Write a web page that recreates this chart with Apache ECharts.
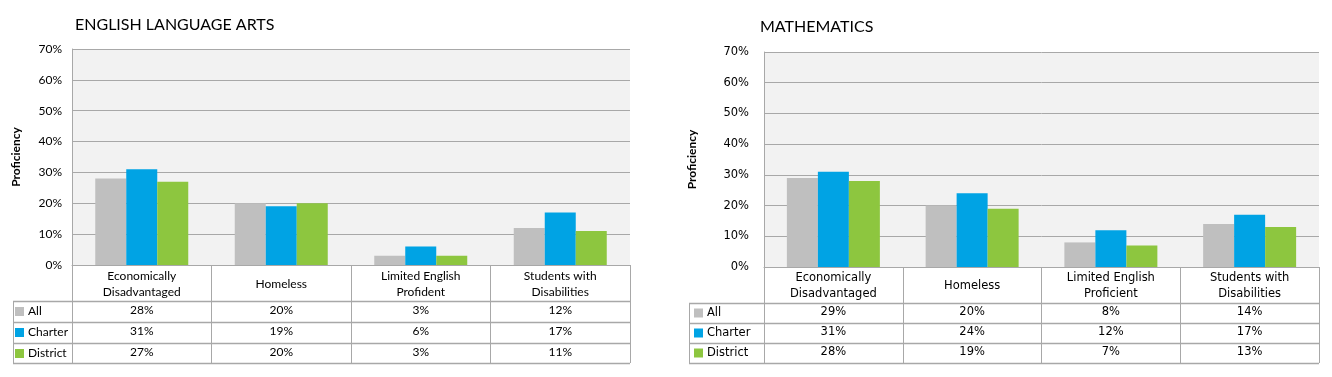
<!DOCTYPE html>
<html>
<head>
<meta charset="utf-8">
<script src="https://cdn.jsdelivr.net/npm/echarts@6/dist/echarts.min.js"></script>
<style>
html,body{margin:0;padding:0;background:#fff;}
#c{width:1332px;height:377px;}
</style>
</head>
<body>
<div id="c"></div>
<script>
// ---- data ----
const elaCategories = ["Economically\nDisadvantaged", "Homeless", "Limited English\nProfident", "Students with\nDisabilities"];
const mathCategories = ["Economically\nDisadvantaged", "Homeless", "Limited English\nProficient", "Students with\nDisabilities"];
const seriesNames = ["All", "Charter", "District"];
const elaAll = [28, 20, 3, 12];
const elaCharter = [31, 19, 6, 17];
const elaDistrict = [27, 20, 3, 11];
const mathAll = [29, 20, 8, 14];
const mathCharter = [31, 24, 12, 17];
const mathDistrict = [28, 19, 7, 13];
const yTicks = [0, 10, 20, 30, 40, 50, 60, 70];

const colors = ["#BFBFBF", "#00A3E4", "#8DC63F"];
const elaData = [elaAll, elaCharter, elaDistrict];
const mathData = [mathAll, mathCharter, mathDistrict];

// ---- layout ----
const L = {left: 72, right: 630, top: 49, bottom: 265, tableLeft: 13, rows: [301, 322, 343, 363], font: "Lato", fs: 12, rowH: 21};
const R = {left: 764, right: 1319, top: 52, bottom: 267, tableLeft: 689, rows: [303, 323, 343, 363], font: "'DejaVu Sans', Verdana, sans-serif", fs: 11.5, rowH: 20};
const W = 1332, H = 377;
const lineCol = "#A8A8A8";

function labelFormatter(cats, data) {
  return function (v, i) {
    const name = cats[i];
    const parts = name.split("\n");
    let head;
    if (parts.length === 2) head = "{h|" + parts[0] + "}\n{h|" + parts[1] + "}";
    else head = "{h1|" + parts[0] + "}";
    const vals = data.map(d => "{v|" + d[i] + "%}").join("\n");
    return head + "\n" + vals;
  };
}

function gridOf(g) {
  return {left: g.left, right: W - g.right, top: g.top, bottom: H - g.bottom, show: true,
    backgroundColor: "#F2F2F2", borderWidth: 0, containLabel: false};
}

function xAxisOf(g, idx, cats, data) {
  return {
    type: "category", gridIndex: idx, data: cats,
    axisLine: {show: true, lineStyle: {color: lineCol, width: 1}},
    axisTick: {show: true, interval: 0, length: g.rows[3] - g.bottom, lineStyle: {color: lineCol, width: 1}},
    axisLabel: {
      interval: 0, margin: 3, color: "#000", fontFamily: g.font, fontSize: g.fs,
      formatter: labelFormatter(cats, data),
      rich: {
        h: {lineHeight: 16, fontFamily: g.font, fontSize: g.fs, color: "#000"},
        h1: {lineHeight: 32, fontFamily: g.font, fontSize: g.fs, color: "#000"},
        v: {lineHeight: g.rowH, fontFamily: g.font, fontSize: g.fs, color: "#000"}
      }
    }
  };
}

function yAxisOf(g, idx, margin, nameGap) {
  return {
    type: "value", gridIndex: idx, min: yTicks[0], max: yTicks[yTicks.length - 1], interval: 10,
    name: "Proficiency", nameLocation: "middle", nameGap: nameGap, nameRotate: 90,
    nameTextStyle: {fontFamily: "Lato", fontWeight: "bold", fontSize: 12, color: "#000"},
    axisLine: {show: true, lineStyle: {color: lineCol, width: 1}},
    axisTick: {show: false},
    axisLabel: {margin: margin, color: "#000", fontFamily: g.font, fontSize: g.fs, formatter: v => v + "%"},
    splitLine: {show: true, lineStyle: {color: lineCol, width: 1}}
  };
}

function tableGraphics(g) {
  const els = [];
  g.rows.forEach(y => {
    els.push({type: "line", shape: {x1: g.tableLeft, y1: y + 0.5, x2: g.right, y2: y + 0.5},
      style: {stroke: lineCol, lineWidth: 1.5}, silent: true});
  });
  els.push({type: "line", shape: {x1: g.tableLeft + 0.5, y1: g.rows[0], x2: g.tableLeft + 0.5, y2: g.rows[3]},
    style: {stroke: lineCol, lineWidth: 1}, silent: true});
  return els;
}

const series = [];
[elaData, mathData].forEach((dataset, gi) => {
  dataset.forEach((d, si) => {
    series.push({
      type: "bar", name: seriesNames[si], xAxisIndex: gi, yAxisIndex: gi,
      data: d, barWidth: 31, barGap: "0%",
      itemStyle: {color: colors[si]},
      emphasis: {disabled: true}
    });
  });
});

const option = {
  animation: false,
  color: colors,
  title: [
    {text: "ENGLISH LANGUAGE ARTS", left: 75, top: 17, padding: 0,
      textStyle: {fontFamily: "Lato", fontSize: 16, fontWeight: "normal", color: "#000"}},
    {text: "MATHEMATICS", left: 760, top: 19, padding: 0,
      textStyle: {fontFamily: "Lato", fontSize: 16, fontWeight: "normal", color: "#000"}}
  ],
  legend: [
    {data: seriesNames, orient: "vertical", left: 15, top: L.rows[0], padding: 0, itemGap: 0,
      itemWidth: 9, itemHeight: 9, icon: "rect", selectedMode: false,
      textStyle: {fontFamily: L.font, fontSize: L.fs, color: "#000", lineHeight: L.rowH, padding: [0, 0, 0, -1]}},
    {data: seriesNames, orient: "vertical", left: 694, top: R.rows[0], padding: 0, itemGap: 0,
      itemWidth: 9, itemHeight: 9, icon: "rect", selectedMode: false,
      textStyle: {fontFamily: R.font, fontSize: R.fs, color: "#000", lineHeight: R.rowH, padding: [0, 0, 0, -1]}}
  ],
  grid: [gridOf(L), gridOf(R)],
  xAxis: [xAxisOf(L, 0, elaCategories, elaData), xAxisOf(R, 1, mathCategories, mathData)],
  yAxis: [yAxisOf(L, 0, 10, 50), yAxisOf(R, 1, 15, 66)],
  series: series,
  graphic: tableGraphics(L).concat(tableGraphics(R))
};

const chart = echarts.init(document.getElementById("c"), null, {renderer: "canvas"});
chart.setOption(option);
</script>
</body>
</html>
